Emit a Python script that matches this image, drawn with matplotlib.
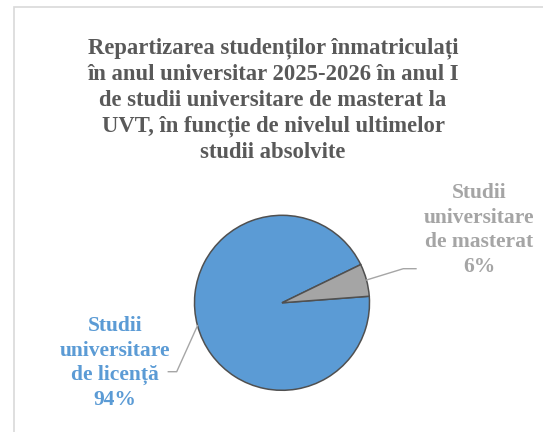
import matplotlib.pyplot as plt
import numpy as np

W, H = 543, 432

title = ('Repartizarea studenților înmatriculați\n'
         'în anul universitar 2025-2026 în anul I\n'
         'de studii universitare de masterat la\n'
         'UVT, în funcție de nivelul ultimelor\n'
         'studii absolvite')

categories = ['Studii\nuniversitare\nde licență', 'Studii\nuniversitare\nde masterat']
values = [94, 6]
colors = ['#5B9BD5', '#A5A5A5']

fig = plt.figure(figsize=(W / 100, H / 100), dpi=100)
ax = fig.add_axes([0, 0, 1, 1])

def py(y):
    # pixel row (from top) -> data y
    return H - y

cx, cy, R = 282, py(302.8), 87.5
wedges, _ = ax.pie(values, colors=colors, startangle=25.9, center=(cx, cy), radius=R,
                   wedgeprops=dict(edgecolor='#505050', linewidth=1.1))

ax.set_xlim(0, W)
ax.set_ylim(0, H)
ax.set_aspect('auto')
ax.axis('off')

# chart border (cut off at right / bottom)
ax.plot([13.5, 13.5, W + 5], [py(H + 5), py(7), py(7)], color='#D9D9D9', lw=1.2,
        solid_joinstyle='miter', clip_on=False)

ax.text(273, py(100), title, ha='center', va='center', fontsize=16.3, fontweight='bold',
        family='Liberation Serif', color='#595959', linespacing=1.3)

# data labels with leader lines
lab_pos = [(115, 363), (479, 230)]
elbows = [[(176.7, 371.7), (168.3, 371.7)], [(403.3, 268.7), (416, 268.7)]]
for w, name, v, c, (lx, ly), elb in zip(wedges, categories, values, colors, lab_pos, elbows):
    mid = np.deg2rad((w.theta1 + w.theta2) / 2)
    sx, sy = cx + R * np.cos(mid), cy + R * np.sin(mid)
    xs = [sx] + [p[0] for p in elb]
    ys = [sy] + [py(p[1]) for p in elb]
    ax.plot(xs, ys, color='#A6A6A6', lw=1.0)
    ax.text(lx, py(ly), f'{name}\n{v}%', ha='center', va='center', fontsize=15.5,
            fontweight='bold', family='Liberation Serif', color=c, linespacing=1.3)

fig.savefig('out.png', dpi=100, facecolor='white')
